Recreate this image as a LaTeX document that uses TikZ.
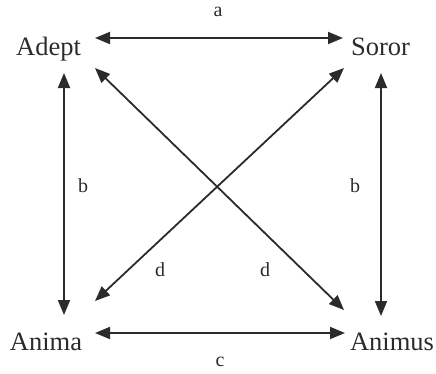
\documentclass[tikz,border=0pt]{standalone}
\usepackage{fontspec}
\setmainfont{Liberation Serif}
\usetikzlibrary{arrows.meta}
\definecolor{ink}{HTML}{2B2B2B}
\tikzset{
  x=1bp, y=1bp,
  namebox/.style={anchor=base, inner sep=0pt, text=ink, font=\fontsize{26.5bp}{30bp}\selectfont},
  lbl/.style={inner sep=0pt, text=ink, font=\fontsize{20bp}{24bp}\selectfont},
  dblarr/.style={draw=ink, line width=1.8bp, {Triangle[length=15bp,width=12bp]}-{Triangle[length=15bp,width=12bp]}}
}
\begin{document}
\begin{tikzpicture}
\useasboundingbox (0,0) rectangle (436,373);
\node[namebox] (adept) at (48.5,318) {Adept};
\node[namebox] (soror) at (380.5,318) {Soror};
\node[namebox] (anima) at (46,23) {Anima};
\node[namebox] (animus) at (392,23) {Animus};
% connectors
\draw[dblarr] ([shift={(46.5,17)}]adept.base) -- ([shift={(-37.5,17)}]soror.base);
\draw[dblarr] ([shift={(49,17)}]anima.base) -- ([shift={(-47,17)}]animus.base);
\draw[dblarr] ([shift={(15.5,-18)}]adept.base) -- ([shift={(18,35)}]anima.base);
\draw[dblarr] ([shift={(0.5,-18)}]soror.base) -- ([shift={(-11,34)}]animus.base);
\draw[dblarr] ([shift={(46.5,-13)}]adept.base) -- ([shift={(-48,40)}]animus.base);
\draw[dblarr] ([shift={(-36.5,-13)}]soror.base) -- ([shift={(49,49)}]anima.base);
% labels
\node[lbl] (la) at (218,361) {a};
\node[lbl] (lb1) at (83,187) {b};
\node[lbl] (lb2) at (355,187) {b};
\node[lbl] (lc) at (220,11) {c};
\node[lbl] (ld1) at (160,103) {d};
\node[lbl] (ld2) at (265,103) {d};
\end{tikzpicture}
\end{document}
